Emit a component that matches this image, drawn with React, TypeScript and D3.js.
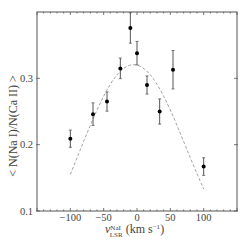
import React from 'react';
import * as d3 from 'd3';

// measured velocities (km/s) and column density ratios
const velocities = [-100, -66, -45, -25, -10, 0, 15, 34, 54, 100];
const ratios = [0.209, 0.246, 0.265, 0.315, 0.376, 0.338, 0.29, 0.25, 0.313, 0.167];
const errors = [0.013, 0.017, 0.0145, 0.0155, 0.023, 0.0177, 0.0136, 0.019, 0.029, 0.0133];

// dashed model curve
const curveX = [-100, -80, -60, -40, -20, 0, 20, 40, 60, 80, 100];
const curveY = [0.155, 0.205, 0.252, 0.291, 0.315, 0.32, 0.305, 0.273, 0.229, 0.18, 0.133];

const xTicks = [-100, -50, 0, 50, 100];
const yTicks = [0.1, 0.2, 0.3];

const FONT = "'Liberation Serif', 'DejaVu Serif', serif";

export default function App() {
  const W = 249, H = 249;
  const left = 37, right = 237, top = 12, bottom = 211;
  const x = d3.scaleLinear().domain([-150, 150]).range([left, right]);
  const y = d3.scaleLinear().domain([0.1, 0.4]).range([bottom, top]);
  const frame = '#555';

  const line = d3.line<number>()
    .x((_, i) => x(curveX[i]))
    .y(d => y(d))
    .curve(d3.curveNatural);

  const minorX = d3.range(-150, 151, 10);

  const fmtY = (v: number) => v.toFixed(1);
  const fmtX = (v: number) => (v < 0 ? '\u2212' + Math.abs(v) : String(v));

  return (
    <svg width={W} height={H} style={{ position: 'absolute', left: 0, top: 0, background: '#fff' }}>
      {/* minor ticks top and bottom */}
      {minorX.map(v => (
        <g key={'m' + v} stroke={frame} strokeWidth={0.8}>
          <line x1={x(v)} x2={x(v)} y1={bottom} y2={bottom - (v % 50 === 0 ? 3 : 1.5)} />
          <line x1={x(v)} x2={x(v)} y1={top} y2={top + (v % 50 === 0 ? 3 : 1.5)} />
        </g>
      ))}
      {yTicks.map(v => (
        <g key={'y' + v} stroke={frame} strokeWidth={0.8}>
          <line x1={left - 1} x2={left + 3} y1={y(v)} y2={y(v)} />
          <line x1={right - 3} x2={right + 1} y1={y(v)} y2={y(v)} />
        </g>
      ))}
      <rect x={left} y={top} width={right - left} height={bottom - top} fill="none" stroke={frame} strokeWidth={1} />

      <path d={line(curveY) || ''} fill="none" stroke="#999" strokeWidth={0.9} strokeDasharray="3,2" />

      {velocities.map((v, i) => (
        <g key={'p' + i}>
          <line x1={x(v)} x2={x(v)} y1={y(ratios[i] - errors[i])} y2={y(ratios[i] + errors[i])} stroke="#555" strokeWidth={1} />
          <line x1={x(v) - 1.5} x2={x(v) + 1.5} y1={y(ratios[i] - errors[i])} y2={y(ratios[i] - errors[i])} stroke="#555" strokeWidth={0.8} />
          <line x1={x(v) - 1.5} x2={x(v) + 1.5} y1={y(ratios[i] + errors[i])} y2={y(ratios[i] + errors[i])} stroke="#555" strokeWidth={0.8} />
          <circle cx={x(v)} cy={y(ratios[i])} r={2} fill="#000" />
        </g>
      ))}

      {yTicks.map(v => (
        <text key={'yl' + v} x={left - 4} y={y(v)} dy="0.35em" textAnchor="end" fontFamily={FONT} fontSize={10.5} fill="#444">
          {fmtY(v)}
        </text>
      ))}
      {xTicks.map(v => (
        <text key={'xl' + v} x={x(v)} y={bottom + 10} textAnchor="middle" fontFamily={FONT} fontSize={10.5} fill="#444">
          {fmtX(v)}
        </text>
      ))}

      <text transform={`translate(17,126) rotate(-90)`} textAnchor="middle" fontFamily={FONT} fontSize={12} fill="#444">
        {'< N(Na I)/N(Ca II) >'}
      </text>

      <text x={105} y={bottom + 22} fontFamily={FONT} fontSize={12} fill="#444">
        <tspan fontStyle="italic">v</tspan>
        <tspan fontSize={7} dy={-3.5}>NaI</tspan>
        <tspan fontSize={7} dx={-11} dy={7}>LSR</tspan>
        <tspan dy={-3.5} dx={3}>(km s</tspan>
        <tspan fontSize={7} dy={-4}>−1</tspan>
        <tspan dy={4}>)</tspan>
      </text>
    </svg>
  );
}
